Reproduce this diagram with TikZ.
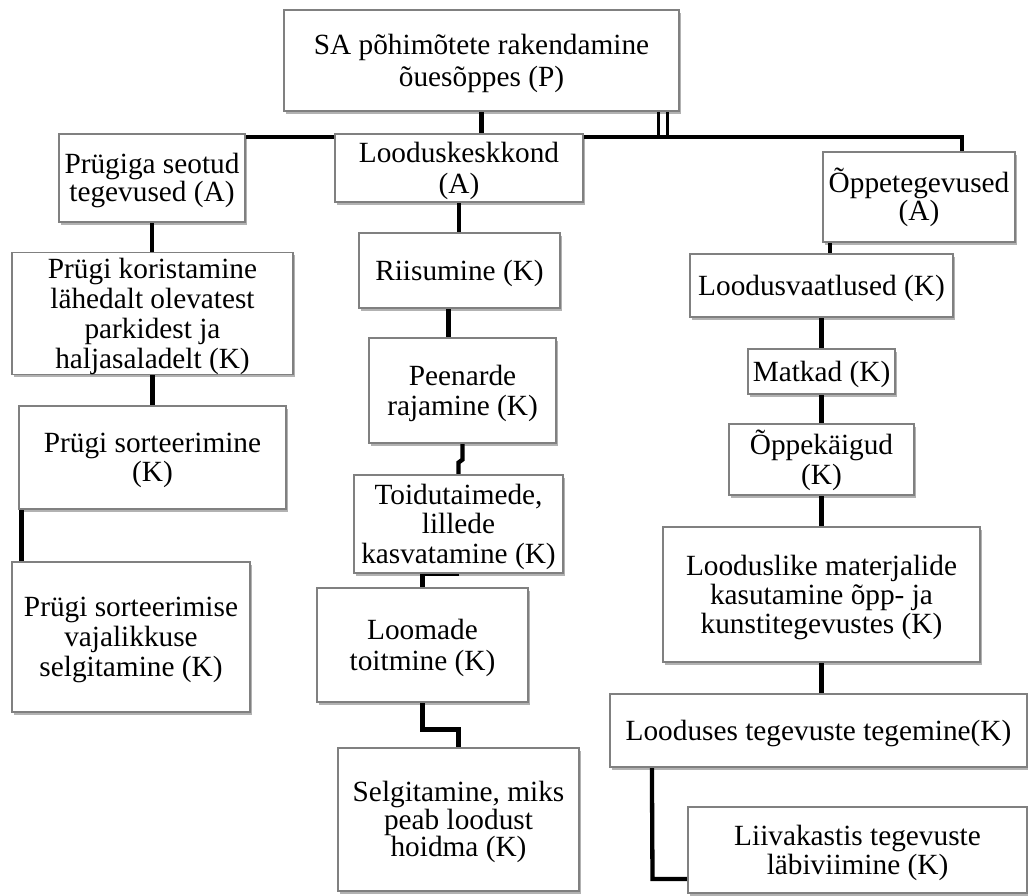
\documentclass[tikz,border=0pt]{standalone}
\usepackage{fontspec}
\setmainfont{Liberation Serif}
\usetikzlibrary{shadows}
\pgfdeclarelayer{bg}
\pgfsetlayers{bg,main}
\tikzset{
  box/.style={draw=black!50, line width=1.2pt, fill=white, inner sep=0pt, align=center,
    drop shadow={shadow xshift=1.5pt, shadow yshift=-2.5pt, opacity=0.3, fill=black},
    font=\fontsize{29.3}{30}\selectfont},
  conn/.style={line width=4.3pt},
  thinconn/.style={line width=3pt},
}
\newcommand{\bx}[7][]{%
  \node[box, minimum width={(#5-#3)*1pt}, minimum height={(#6-#4)*1pt}, #1]
    (#2) at ({(#3+#5)/2},{(#4+#6)/2}) {\rule{0pt}{25.5pt}#7};}
\begin{document}
\begin{tikzpicture}[x=1pt,y=-1pt]
\useasboundingbox (0,0) rectangle (1028,895);
% boxes
\bx[font=\fontsize{29.3}{32}\selectfont]{top}{284}{10}{679}{111}{SA põhimõtete rakendamine\\õuesõppes (P)}
\bx[font=\fontsize{29.3}{25}\selectfont]{pa}{59}{134}{245}{222}{Prügiga seotud\\tegevused (A)}
\bx[font=\fontsize{29.3}{31}\selectfont]{lk}{335}{134}{583}{202}{Looduskeskkond\\(A)}
\bx[font=\fontsize{29.3}{28}\selectfont]{oa}{823}{152}{1015}{242}{Õppetegevused\\(A)}
% left column
\bx{pk}{12}{253}{293}{374}{Prügi koristamine\\lähedalt olevatest\\parkidest ja\\haljasaladelt (K)}
\bx[font=\fontsize{29.3}{29}\selectfont]{ps}{19}{406}{286}{509}{Prügi sorteerimine\\(K)}
\bx{pv}{12}{562}{250}{712}{Prügi sorteerimise\\vajalikkuse\\selgitamine (K)}
% middle column
\bx{ri}{359}{233}{560}{308}{Riisumine (K)}
\bx{pe}{369}{338}{556}{443}{Peenarde\\rajamine (K)}
\bx[font=\fontsize{29.3}{29.5}\selectfont]{to}{354}{475}{563}{573}{Toidutaimede,\\lillede\\kasvatamine (K)}
\bx[font=\fontsize{29.3}{31}\selectfont]{lo}{317}{588}{528}{702}{Loomade\\toitmine (K)}
\bx[font=\fontsize{29.3}{26.5}\selectfont]{se}{338}{748}{579}{891}{Selgitamine, miks\\peab loodust\\hoidma (K)}
% right column
\bx{lv}{690}{254}{953}{317}{Loodusvaatlused (K)}
\bx{ma}{748}{349}{895}{394}{Matkad (K)}
\bx{ok}{729}{424}{914}{495}{Õppekäigud\\(K)}
\bx[font=\fontsize{29.3}{29}\selectfont]{ll}{663}{527}{980}{662}{Looduslike materjalide\\kasutamine õpp- ja\\kunstitegevustes (K)}
\bx{ls}{610}{694}{1027}{767}{Looduses tegevuste tegemine(K)}
\bx[font=\fontsize{29.3}{29}\selectfont]{li}{688}{807}{1027}{893}{Liivakastis tegevuste\\läbiviimine (K)}
% connectors
\coordinate (b1) at (962,137);
\coordinate (d1) at (658,137);
\coordinate (d2) at (667,137);
\coordinate (lj) at (652.5,879);
\begin{pgfonlayer}{bg}
\draw[conn] (top.south) -- (top.south |- lk.north);
\draw[conn] (pa.north |- b1) -- (b1) -- (b1 |- oa.north);
\draw[thinconn] (d1 |- top.south) -- (d1);
\draw[thinconn] (d2 |- top.south) -- (d2);
\draw[conn] (pa.south) -- (pa.south |- pk.north);
\draw[conn] (pk.south) -- (pk.south |- ps.north);
\draw[conn] ([xshift=3pt]ps.south west) -- ([xshift=3pt]ps.south west |- pv.north);
\draw[conn] (lk.south) -- (lk.south |- ri.north);
\draw[conn] ([xshift=-11pt]ri.south) -- ([xshift=-11pt]ri.south |- pe.north);
\draw[conn] (pe.south) -- ([yshift=-16pt]pe.south) -- ([yshift=-19pt]pe.south -| to.north) -- (to.north);
\draw[conn] (to.south) -- (to.south -| lo.north) -- (lo.north);
\draw[conn] (lo.south) -- ([yshift=-27pt]lo.south) -- ([yshift=-27pt]lo.south -| se.north) -- (se.north);
\draw[conn] ([xshift=7.5pt]oa.south west) -- ([xshift=7.5pt]oa.south west |- lv.north);
\draw[conn] (lv.south) -- (lv.south |- ma.north);
\draw[conn] (ma.south) -- (ma.south |- ok.north);
\draw[conn] (ok.south) -- (ok.south |- ll.north);
\draw[conn] (ll.south) -- (ll.south |- ls.north);
\draw[conn] ([xshift=42.5pt]ls.south west) -- (lj) -- (lj -| li.west);
\end{pgfonlayer}
\end{tikzpicture}
\end{document}
